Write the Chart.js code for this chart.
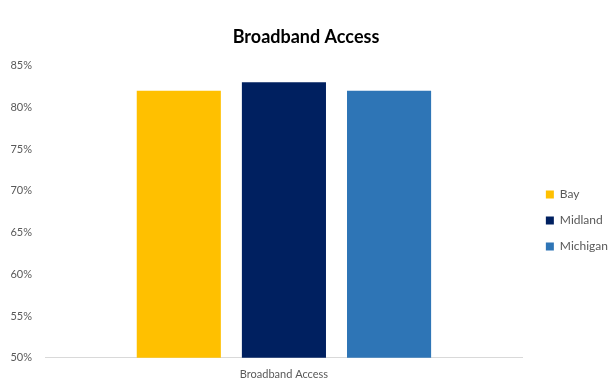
<!DOCTYPE html>
<html>
<head>
<meta charset="utf-8">
<script src="https://cdn.jsdelivr.net/npm/chart.js@4"></script>
<style>
  html, body { margin: 0; padding: 0; background: #fff; }
  #wrap { width: 611px; height: 390px; }
</style>
</head>
<body>
<div id="wrap"><canvas id="accessChart"></canvas></div>
<script>
// Share of households with broadband access
const categories = ['Broadband Access'];
const regions = ['Bay', 'Midland', 'Michigan'];
const bayValues = [82];
const midlandValues = [83];
const michiganValues = [82];
const tickValues = [50, 55, 60, 65, 70, 75, 80, 85];

const colors = ['#FFC000', '#002060', '#2E75B6'];
const fontFamily = "Lato, 'Liberation Sans', sans-serif";

// nudge the legend a little right and down from where the layout puts it
const legendOffset = {
    id: 'legendOffset',
    afterLayout(chart) {
        const lg = chart.legend;
        lg.left += 9; lg.right += 9;
        lg.top += 17; lg.bottom += 17;
    }
};

const ctx = document.getElementById('accessChart').getContext('2d');
new Chart(ctx, {
    type: 'bar',
    data: {
        labels: categories,
        datasets: [
            { label: regions[0], data: bayValues, backgroundColor: colors[0] },
            { label: regions[1], data: midlandValues, backgroundColor: colors[1] },
            { label: regions[2], data: michiganValues, backgroundColor: colors[2] }
        ]
    },
    options: {
        responsive: true,
        maintainAspectRatio: false,
        animation: false,
        categoryPercentage: 0.66,
        barPercentage: 0.8,
        layout: { padding: { left: 3, right: 2, top: 24, bottom: 7 } },
        plugins: {
            title: {
                display: true,
                text: 'Broadband Access',
                color: '#000',
                font: { family: fontFamily, size: 18, weight: 'bold' },
                padding: { top: 2, bottom: 18 }
            },
            legend: {
                position: 'right',
                labels: {
                    boxWidth: 8,
                    boxHeight: 8,
                    padding: 14,
                    color: '#595959',
                    font: { family: fontFamily, size: 12 }
                }
            },
            tooltip: { enabled: false }
        },
        scales: {
            x: {
                grid: { display: false },
                border: { color: '#D9D9D9', width: 1 },
                ticks: { color: '#595959', font: { family: fontFamily, size: 11 }, padding: 2 }
            },
            y: {
                min: 50,
                max: 85,
                afterBuildTicks: axis => { axis.ticks = tickValues.map(v => ({ value: v })); },
                afterFit: axis => { axis.width = 42; },
                grid: { display: false },
                border: { display: false },
                ticks: {
                    color: '#595959',
                    font: { family: fontFamily, size: 11 },
                    padding: 5,
                    callback: v => v + '%'
                }
            }
        }
    },
    plugins: [legendOffset]
});
</script>
</body>
</html>
